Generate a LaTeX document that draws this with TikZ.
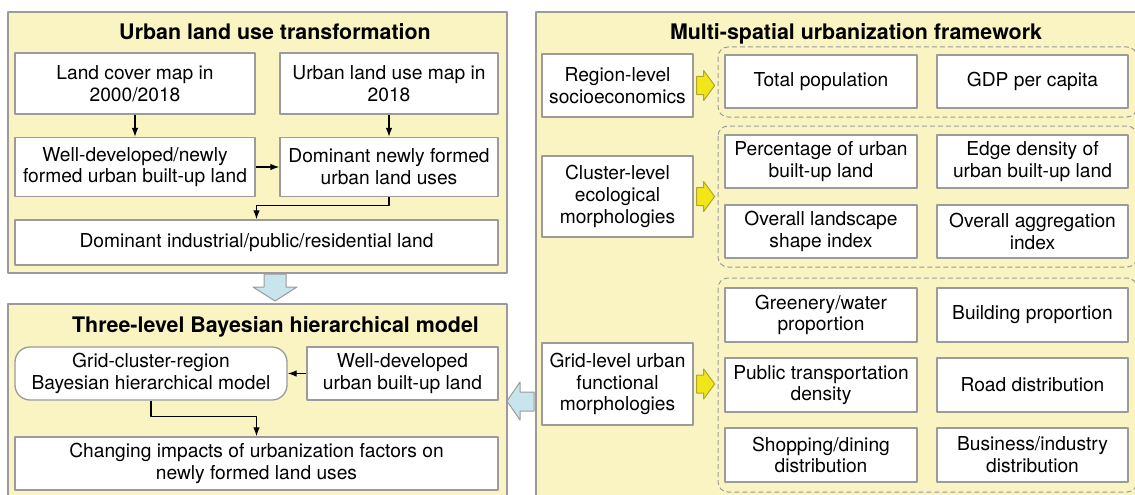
\documentclass[tikz,border=0pt]{standalone}
\usepackage{fontspec}
\setmainfont{TeX Gyre Heros}
\usetikzlibrary{arrows.meta}

\definecolor{panelfill}{RGB}{250,244,194}
\definecolor{linegray}{RGB}{155,155,155}
\definecolor{flowblue}{RGB}{200,228,236}
\definecolor{flowyellow}{RGB}{240,230,24}
\definecolor{yellowedge}{RGB}{175,165,50}

\begin{document}
\begin{tikzpicture}[x=1pt, y=-1pt, >={Latex[length=9pt,width=6.5pt]}, line join=round,
  font=\fontsize{19.2}{21.8}\selectfont,
  panel/.style={draw=linegray, line width=1.3pt, fill=panelfill},
  heading/.style={anchor=base, font=\fontsize{21.4}{24}\selectfont\bfseries},
  box/.style={draw=linegray, line width=1.3pt, fill=white, align=center, inner sep=0pt},
  group/.style={draw=linegray, line width=1pt, dash pattern=on 5pt off 3pt, rounded corners=10pt},
  flow/.style={->, line width=1.2pt},
  bluearrow/.style={draw=linegray, line width=1pt, fill=flowblue},
  yelarrow/.style={draw=yellowedge, line width=1pt, fill=flowyellow}]
  \useasboundingbox (0,0) rectangle (1135,495);

  % panels
  \draw[panel] (8,12) rectangle (507,273);
  \draw[panel] (8,304) rectangle (507,505);
  \draw[panel] (536,12) rectangle (1145,505);

  % land use transformation
  \node[heading] (ttrans) at (275,40) {Urban land use transformation};
  \node[box, minimum width=240pt, minimum height=61pt] (lcmap) at (135,83.5) {Land cover map in\\2000/2018};
  \node[box, minimum width=218pt, minimum height=61pt] (ulmap) at (389,83.5) {Urban land use map in\\2018};
  \node[box, minimum width=240pt, minimum height=59pt] (wellnew) at (135,167) {Well-developed/newly\\formed urban built-up land};
  \node[box, minimum width=218pt, minimum height=59pt] (domnew) at (389,167) {Dominant newly formed\\urban land uses};
  \node[box, minimum width=483pt, minimum height=45pt] (domland) at (256.5,242.5) {Dominant industrial/public/residential land};

  \draw[flow] (lcmap) -- (wellnew);
  \draw[flow] (ulmap) -- (domnew);
  \draw[flow] (wellnew) -- (domnew);
  \draw[flow] (domnew.south) -- ++(0,8) -| (domland.north);

  % hierarchical model
  \node[heading] (tmodel) at (275.5,332) {Three-level Bayesian hierarchical model};
  \node[box, rounded corners=15pt, minimum width=272pt, minimum height=53pt] (gmodel) at (151,373.5) {Grid-cluster-region\\Bayesian hierarchical model};
  \node[box, minimum width=191pt, minimum height=53pt] (wellbuilt) at (402.5,373.5) {Well-developed\\urban built-up land};
  \node[box, minimum width=483pt, minimum height=53pt] (change) at (256.5,463.5) {Changing impacts of urbanization factors on\\newly formed land uses};

  \draw[flow] (wellbuilt) -- (gmodel);
  \draw[flow] (gmodel.south) -- ++(0,16) -| (change.north);

  % block arrows between panels
  \draw[bluearrow] (264,274) -- (286,274) -- (286,287) -- (297,287) -- (275,301) -- (253,287) -- (264,287) -- cycle;
  \draw[bluearrow] (534,392) -- (520,392) -- (520,382) -- (507,401) -- (520,420) -- (520,411) -- (534,411) -- cycle;

  % urbanization framework
  \node[heading] (tframe) at (856,40) {Multi-spatial urbanization framework};
  \node[box, minimum width=151pt, minimum height=63pt] (region) at (617.5,85.5) {Region-level\\socioeconomics};
  \node[box, minimum width=151pt, minimum height=81pt] (cluster) at (617.5,196.5) {Cluster-level\\ecological\\morphologies};
  \node[box, minimum width=151pt, minimum height=82pt] (gridlvl) at (617.5,384) {Grid-level urban\\functional\\morphologies};

  \draw[group] (718,47) rectangle (1137,117);
  \draw[group] (718,126) rectangle (1137,267);
  \draw[group] (718,278) rectangle (1137,492);

  \node[box, minimum width=192pt, minimum height=53pt] (totpop) at (821,81.5) {Total population};
  \node[box, minimum width=191pt, minimum height=53pt] (gdp) at (1032.5,81.5) {GDP per capita};
  \node[box, minimum width=192pt, minimum height=53pt] (pctbuilt) at (821,161.5) {Percentage of urban\\built-up land};
  \node[box, minimum width=191pt, minimum height=53pt] (edgeden) at (1032.5,161.5) {Edge density of\\urban built-up land};
  \node[box, minimum width=192pt, minimum height=53pt] (lsi) at (821,231.5) {Overall landscape\\shape index};
  \node[box, minimum width=191pt, minimum height=53pt] (aggr) at (1032.5,231.5) {Overall aggregation\\index};
  \node[box, minimum width=192pt, minimum height=54pt] (green) at (821,315) {Greenery/water\\proportion};
  \node[box, minimum width=191pt, minimum height=54pt] (bldg) at (1032.5,315) {Building proportion};
  \node[box, minimum width=192pt, minimum height=54pt] (transit) at (821,385) {Public transportation\\density};
  \node[box, minimum width=191pt, minimum height=54pt] (road) at (1032.5,385) {Road distribution};
  \node[box, minimum width=192pt, minimum height=54pt] (shop) at (821,455) {Shopping/dining\\distribution};
  \node[box, minimum width=191pt, minimum height=54pt] (biz) at (1032.5,455) {Business/industry\\distribution};

  \foreach \lvl in {region,cluster,gridlvl}
    \draw[yelarrow] ([xshift=3pt]\lvl.east) ++(0,-9) -- ++(7,0) -- ++(0,-6) -- ++(11,15)
      -- ++(-11,15) -- ++(0,-6) -- ++(-7,0) -- cycle;
\end{tikzpicture}
\end{document}
